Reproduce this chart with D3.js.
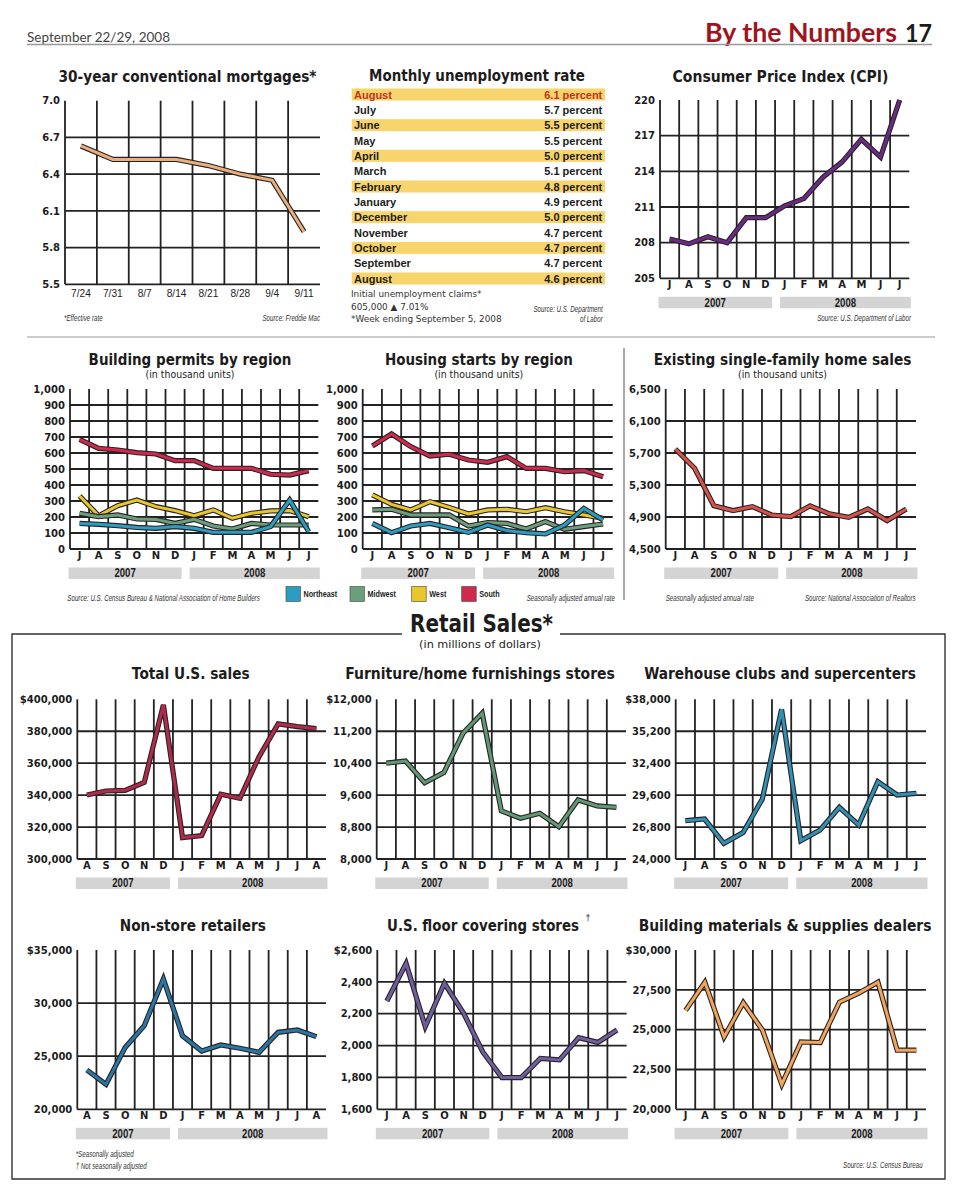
<!DOCTYPE html>
<html>
<head>
<meta charset="utf-8">
<script src="https://cdn.jsdelivr.net/npm/d3@7"></script>
<style>
  body { margin: 0; background: #fff; }
</style>
</head>
<body>
<svg id="page" width="960" height="1189"></svg>
<script>
// By the Numbers page - economic indicators, Sept 22/29 2008

// ---- data ----
const mortgageWeeks = ["7/24", "7/31", "8/7", "8/14", "8/21", "8/28", "9/4", "9/11"];
const mortgageRates = [6.63, 6.52, 6.52, 6.52, 6.47, 6.40, 6.35, 5.93];
const mortgageTicks = [5.5, 5.8, 6.1, 6.4, 6.7, 7.0];

const unemploymentMonths = ["August", "July", "June", "May", "April", "March", "February",
  "January", "December", "November", "October", "September", "August"];
const unemploymentRates = [6.1, 5.7, 5.5, 5.5, 5.0, 5.1, 4.8, 4.9, 5.0, 4.7, 4.7, 4.7, 4.6];

const monthsJulToJul = ["J", "A", "S", "O", "N", "D", "J", "F", "M", "A", "M", "J", "J"];
const monthsAugToAug = ["A", "S", "O", "N", "D", "J", "F", "M", "A", "M", "J", "J", "A"];
const yearLabels = ["2007", "2008"];

const cpiValues = [208.3, 207.9, 208.5, 208.0, 210.1, 210.1, 211.1, 211.7, 213.5, 214.8, 216.7, 215.2, 220.0];
const cpiTicks = [205, 208, 211, 214, 217, 220];

const regionNames = ["Northeast", "Midwest", "West", "South"];
const permitsNortheast = [160, 154, 146, 135, 129, 140, 129, 104, 104, 104, 140, 306, 108];
const permitsMidwest = [223, 202, 213, 188, 185, 160, 185, 144, 125, 160, 150, 150, 150];
const permitsWest = [331, 208, 271, 306, 265, 240, 208, 244, 192, 223, 238, 240, 202];
const permitsSouth = [685, 629, 619, 602, 594, 552, 552, 504, 504, 504, 467, 462, 490];

const startsNortheast = [160, 102, 144, 160, 133, 104, 150, 115, 102, 94, 150, 254, 181];
const startsMidwest = [244, 248, 213, 213, 213, 144, 165, 160, 125, 171, 123, 140, 156];
const startsWest = [338, 279, 244, 296, 260, 219, 244, 248, 233, 258, 233, 213, 192];
const startsSouth = [644, 719, 640, 581, 592, 556, 542, 577, 504, 504, 483, 490, 452];
const unitsTicks = [0, 100, 200, 300, 400, 500, 600, 700, 800, 900, 1000];

const homeSales = [5750, 5510, 5040, 4980, 5030, 4925, 4905, 5040, 4940, 4895, 5000, 4855, 5000];
const homeTicks = [4500, 4900, 5300, 5700, 6100, 6500];

const totalSales = [340100, 342600, 343000, 348000, 396500, 313400, 314600, 340500, 338000, 364100, 384600, 382900, 381600];
const totalTicks = [300000, 320000, 340000, 360000, 380000, 400000];

const furnitureSales = [10400, 10455, 9910, 10165, 11150, 11650, 9205, 9020, 9145, 8810, 9480, 9330, 9295];
const furnitureTicks = [8000, 8800, 9600, 10400, 11200, 12000];

const warehouseSales = [27360, 27505, 25375, 26310, 29260, 37120, 25610, 26545, 28530, 26980, 30780, 29610, 29760];
const warehouseTicks = [24000, 26800, 29600, 32400, 35200, 38000];

const nonstoreSales = [23700, 22350, 25810, 27880, 32270, 26910, 25490, 26060, 25745, 25365, 27250, 27470, 26845];
const nonstoreTicks = [20000, 25000, 30000, 35000];

const floorSales = [2280, 2516, 2119, 2391, 2203, 1960, 1799, 1799, 1920, 1910, 2050, 2020, 2098];
const floorTicks = [1600, 1800, 2000, 2200, 2400, 2600];

const buildingSales = [26210, 27980, 24540, 26690, 24960, 21565, 24230, 24190, 26730, 27290, 27980, 23710, 23710];
const buildingTicks = [20000, 22500, 25000, 27500, 30000];

// ---- styles ----
const SANS = '"Liberation Sans", Arial, Helvetica, sans-serif';
const WIDE = '"DejaVu Sans", Verdana, sans-serif';
const GILL = 'Lato, "Open Sans", sans-serif';
const INK = "#1c1c1c";
const GRID = "#222";
const BAR = "#d4d4d4";
const OUTLINE = "#2a2226";
const regionColors = ["#2a9dc0", "#69a07b", "#e8c62c", "#cf2a4e"];

const svg = d3.select("#page");
svg.append("rect").attr("width", 960).attr("height", 1189).attr("fill", "#fff");

// text squeezed horizontally to imitate the condensed newspaper face
function condText(parent, x, y, str, opt) {
  const g = parent.append("g").attr("transform", `translate(${x},${y}) scale(${opt.sx || 1},1)`);
  return g.append("text")
    .attr("text-anchor", opt.anchor || "start")
    .attr("font-family", opt.family || SANS)
    .attr("font-size", opt.size)
    .attr("font-weight", opt.weight || "normal")
    .attr("font-style", opt.style || "normal")
    .attr("fill", opt.fill || INK)
    .text(str);
}

// text scaled to the width it has in print
function fitText(x, y, str, len, opt) {
  const t = condText(svg, x, y, str, opt);
  const w = t.node().getComputedTextLength();
  d3.select(t.node().parentNode).attr("transform", `translate(${x},${y}) scale(${len / w},1)`);
  return t;
}

function title(x, y, str, len, size) {
  return fitText(x, y, str, len, { family: WIDE, weight: "bold", size: size || 16.5, anchor: "middle" });
}

function subtitle(x, y, str, len) {
  return fitText(x, y, str, len, { family: WIDE, size: 11, anchor: "middle" });
}

function note(x, y, str, anchor) {
  return condText(svg, x, y, str, { size: 8.5, style: "italic", anchor: anchor, sx: 0.73, fill: "#333" });
}

function lineChart(o) {
  const g = svg.append("g").attr("transform", `translate(${o.x},${o.y})`);
  const x = d3.scaleBand().domain(d3.range(o.cats.length)).range([0, o.w]);
  const y = d3.scaleLinear().domain(d3.extent(o.ticks)).range([o.h, 0]);
  const top = d3.max(o.ticks);

  // grey year bars under the month letters
  if (o.split != null) {
    const bars = [[-1.5, x(o.split) - 3], [x(o.split) + 5, o.w + 1.5]];
    g.append("g").selectAll("rect").data(bars).join("rect")
      .attr("x", d => d[0]).attr("y", o.h + 18.5)
      .attr("width", d => d[1] - d[0]).attr("height", 11.5)
      .attr("fill", BAR);
    bars.forEach((b, i) => condText(g, (b[0] + b[1]) / 2, o.h + 28.4, yearLabels[i],
      { size: 12, weight: "bold", anchor: "middle", sx: 0.8 }));
  }

  // horizontal grid (no line on the top tick)
  g.append("g").selectAll("line").data(o.ticks.filter(t => t !== top)).join("line")
    .attr("x1", 0).attr("x2", o.w)
    .attr("y1", d => y(d)).attr("y2", d => y(d))
    .attr("stroke", GRID).attr("stroke-width", 1.8);

  // vertical grid at cell edges
  g.append("g").selectAll("line").data(d3.range(o.cats.length)).join("line")
    .attr("x1", d => x(d)).attr("x2", d => x(d))
    .attr("y1", 0).attr("y2", o.h)
    .attr("stroke", GRID).attr("stroke-width", 1.8);

  // y labels
  const fmt = o.fmt || d3.format(",");
  const yAxis = g.append("g")
    .call(d3.axisLeft(y).tickValues(o.ticks).tickSize(0).tickPadding(5)
      .tickFormat(d => (d === top && o.dollar ? "$" : "") + fmt(d)));
  yAxis.select(".domain").remove();
  yAxis.attr("font-family", WIDE).attr("font-size", 10).attr("font-weight", "bold").attr("color", INK);

  // x labels
  const xAxis = g.append("g").attr("transform", `translate(0,${o.h})`)
    .call(d3.axisBottom(x).tickSize(0).tickPadding(o.dates ? 4.5 : 3).tickFormat(i => o.cats[i]));
  xAxis.select(".domain").remove();
  if (o.dates) {
    xAxis.attr("font-family", SANS).attr("font-size", 11.5).attr("color", INK);
    xAxis.selectAll("text").attr("transform", "scale(0.88,1)");
  } else {
    xAxis.attr("font-family", WIDE).attr("font-size", 10).attr("font-weight", "bold").attr("color", INK);
  }

  // series: dark outline under a coloured core
  const line = d3.line()
    .x((d, i) => x(i) + x.bandwidth() / 2)
    .y(d => y(d));
  o.series.forEach(s => {
    g.append("path").datum(s.values).attr("d", line)
      .attr("fill", "none").attr("stroke", OUTLINE).attr("stroke-width", 5.2);
    g.append("path").datum(s.values).attr("d", line)
      .attr("fill", "none").attr("stroke", s.color).attr("stroke-width", 3);
  });
  return g;
}

// ---- page header ----
fitText(27, 42, "September 22/29, 2008", 143, { family: GILL, size: 14, fill: "#444" });
fitText(705, 42, "By the Numbers", 192, { family: GILL, size: 26, weight: "bold", fill: "#a0141e" });
fitText(905, 42, "17", 27, { family: GILL, size: 24, weight: "bold" });
svg.append("line").attr("x1", 27).attr("x2", 932).attr("y1", 44.5).attr("y2", 44.5)
  .attr("stroke", "#999").attr("stroke-width", 1.5);

// separators
svg.append("line").attr("x1", 27).attr("x2", 935).attr("y1", 337).attr("y2", 337)
  .attr("stroke", "#999").attr("stroke-width", 1);
svg.append("line").attr("x1", 624).attr("x2", 624).attr("y1", 348).attr("y2", 600)
  .attr("stroke", "#555").attr("stroke-width", 1);

// ---- row 1 ----
title(187.5, 82, "30-year conventional mortgages*", 258);
lineChart({ x: 65, y: 100.7, w: 255, h: 183.6, cats: mortgageWeeks, ticks: mortgageTicks,
  fmt: d3.format(".1f"), dates: true, series: [{ values: mortgageRates, color: "#e9b07c" }] });
note(64, 321, "*Effective rate", "start");
note(320, 321, "Source: Freddie Mac", "end");

// unemployment table
title(477, 81, "Monthly unemployment rate", 216);
const rowY = d3.scalePoint().domain(d3.range(unemploymentMonths.length)).range([94.5, 278.5]);
const table = svg.append("g");
table.selectAll("rect").data(d3.range(unemploymentMonths.length).filter(i => i % 2 === 0)).join("rect")
  .attr("x", 351.7).attr("y", i => rowY(i) - 6).attr("width", 253.3).attr("height", 12)
  .attr("fill", "#f8d46c");
table.selectAll("text.month").data(unemploymentMonths).join("text")
  .attr("class", "month")
  .attr("x", 354).attr("y", (d, i) => rowY(i) + 4)
  .attr("font-family", SANS).attr("font-size", 11).attr("font-weight", "bold")
  .attr("fill", (d, i) => i === 0 ? "#bf3321" : INK)
  .text(d => d);
table.selectAll("text.rate").data(unemploymentRates).join("text")
  .attr("class", "rate")
  .attr("x", 602.3).attr("y", (d, i) => rowY(i) + 4)
  .attr("text-anchor", "end")
  .attr("font-family", SANS).attr("font-size", 11).attr("font-weight", "bold")
  .attr("fill", (d, i) => i === 0 ? "#bf3321" : INK)
  .text(d => d3.format(".1f")(d) + " percent");
[["Initial unemployment claims*", 297.3], ["605,000 \u25B2 7.01%", 309.5], ["*Week ending September 5, 2008", 321.5]]
  .forEach(([t, yy]) => svg.append("text").attr("x", 351).attr("y", yy)
    .attr("font-family", WIDE).attr("font-size", 8.9).attr("fill", "#333").text(t));
note(602.7, 312, "Source: U.S. Department", "end");
note(602.7, 322.3, "of Labor", "end");

title(780.5, 82, "Consumer Price Index (CPI)", 216);
lineChart({ x: 660, y: 100, w: 249.3, h: 178.3, cats: monthsJulToJul, ticks: cpiTicks,
  fmt: d3.format("d"), split: 6, series: [{ values: cpiValues, color: "#6a2b82" }] });
note(911, 321, "Source: U.S. Department of Labor", "end");

// ---- row 2 ----
function regionSeries(ne, mw, w, s) {
  return [
    { values: s, color: regionColors[3] },
    { values: w, color: regionColors[2] },
    { values: mw, color: regionColors[1] },
    { values: ne, color: regionColors[0] }
  ];
}

title(190, 365, "Building permits by region", 203);
subtitle(190, 378.3, "(in thousand units)", 89);
lineChart({ x: 70, y: 389, w: 248.3, h: 160, cats: monthsJulToJul, ticks: unitsTicks, split: 6,
  series: regionSeries(permitsNortheast, permitsMidwest, permitsWest, permitsSouth) });
note(67.3, 601, "Source: U.S. Census Bureau & National Association of Home Builders", "start");

title(478.8, 365, "Housing starts by region", 188);
subtitle(478.8, 378.3, "(in thousand units)", 89);
lineChart({ x: 362.7, y: 389, w: 250, h: 160, cats: monthsJulToJul, ticks: unitsTicks, split: 6,
  series: regionSeries(startsNortheast, startsMidwest, startsWest, startsSouth) });
note(615, 601, "Seasonally adjusted annual rate", "end");

// legend
const legendX = [286, 350, 411.7, 461.7];
regionNames.forEach((name, i) => {
  svg.append("rect").attr("x", legendX[i]).attr("y", 586.5).attr("width", 14.5).attr("height", 15)
    .attr("fill", regionColors[i]).attr("stroke", "#444").attr("stroke-width", 0.6);
  condText(svg, legendX[i] + 17.5, 597, name, { size: 9.5, weight: "bold", sx: 0.76 });
});

title(782.5, 365, "Existing single-family home sales", 258);
subtitle(782.5, 378.3, "(in thousand units)", 89);
lineChart({ x: 665.7, y: 389, w: 250.3, h: 160, cats: monthsJulToJul, ticks: homeTicks, split: 6,
  series: [{ values: homeSales, color: "#d4544a" }] });
note(665.7, 601, "Seasonally adjusted annual rate", "start");
note(915.7, 601, "Source: National Association of Realtors", "end");

// ---- retail sales box ----
svg.append("path").attr("d", "M402,634 H12 V1179 H945 V634 H560")
  .attr("fill", "none").attr("stroke", "#333").attr("stroke-width", 1.4);
title(481.5, 632, "Retail Sales*", 143, 24);
subtitle(480, 648, "(in millions of dollars)", 122);

title(190.8, 678.5, "Total U.S. sales", 118);
lineChart({ x: 77.3, y: 699.3, w: 248.7, h: 159.7, cats: monthsAugToAug, ticks: totalTicks, split: 5,
  dollar: true, series: [{ values: totalSales, color: "#b42a4c" }] });

title(480, 678.5, "Furniture/home furnishings stores", 270);
lineChart({ x: 376.7, y: 699.3, w: 249.3, h: 159.7, cats: monthsJulToJul, ticks: furnitureTicks, split: 6,
  dollar: true, series: [{ values: furnitureSales, color: "#5f9a74" }] });

title(780, 678.5, "Warehouse clubs and supercenters", 272);
lineChart({ x: 675.7, y: 699.3, w: 250.3, h: 159.7, cats: monthsJulToJul, ticks: warehouseTicks, split: 6,
  dollar: true, series: [{ values: warehouseSales, color: "#2f91b3" }] });

title(192.8, 931, "Non-store retailers", 146);
lineChart({ x: 77.3, y: 950, w: 248.7, h: 159.3, cats: monthsAugToAug, ticks: nonstoreTicks, split: 5,
  dollar: true, series: [{ values: nonstoreSales, color: "#2878a6" }] });
note(75.7, 1157.3, "*Seasonally adjusted", "start");
note(75.7, 1169, "\u2020 Not seasonally adjusted", "start");

title(483, 931, "U.S. floor covering stores", 192);
svg.append("text").attr("x", 585.5).attr("y", 921).attr("font-family", SANS).attr("font-size", 9)
  .attr("fill", INK).text("\u2020");
lineChart({ x: 377.3, y: 950, w: 249.3, h: 159.3, cats: monthsJulToJul, ticks: floorTicks, split: 6,
  dollar: true, series: [{ values: floorSales, color: "#6f5f9e" }] });

title(785, 931, "Building materials & supplies dealers", 293);
lineChart({ x: 676, y: 950, w: 250, h: 159.3, cats: monthsJulToJul, ticks: buildingTicks, split: 6,
  dollar: true, series: [{ values: buildingSales, color: "#efa55c" }] });
note(922.7, 1167.7, "Source: U.S. Census Bureau", "end");
</script>
</body>
</html>
